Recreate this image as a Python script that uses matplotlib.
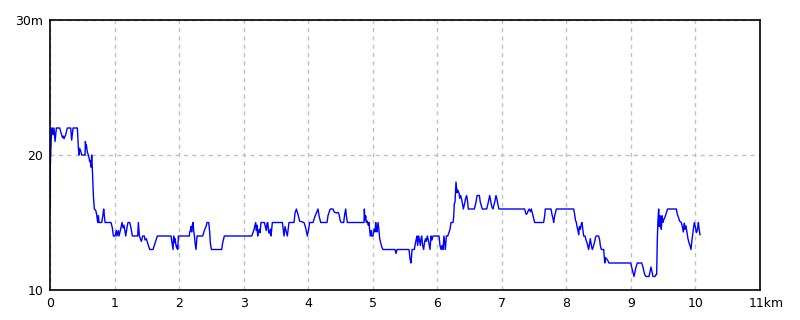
import matplotlib
matplotlib.use('Agg')
import matplotlib.pyplot as plt
import matplotlib.transforms as mtransforms

# elevation profile (distance in km, height in m)
dist_km = [
    0, 0.003, 0.026, 0.037, 0.047, 0.062, 0.078, 0.099, 0.150, 0.192,
    0.207, 0.217, 0.243, 0.269, 0.321, 0.336, 0.357, 0.424, 0.440, 0.450,
    0.460, 0.481, 0.491, 0.543, 0.548, 0.558, 0.563, 0.579, 0.594, 0.605,
    0.615, 0.625, 0.636, 0.646, 0.656, 0.672, 0.687, 0.708, 0.723, 0.739,
    0.749, 0.760, 0.801, 0.822, 0.832, 0.842, 0.853, 0.945, 0.966, 0.982,
    1.007, 1.028, 1.038, 1.059, 1.069, 1.090, 1.116, 1.131, 1.147, 1.173,
    1.199, 1.209, 1.235, 1.255, 1.276, 1.359, 1.369, 1.385, 1.416, 1.436,
    1.462, 1.472, 1.493, 1.514, 1.545, 1.596, 1.637, 1.663,
    # 1.9 - 3.4 km
    1.875, 1.890, 1.906, 1.916, 1.927, 1.937, 1.952, 1.963, 1.973, 1.978,
    1.989, 2.159, 2.164, 2.175, 2.185, 2.195, 2.206, 2.216, 2.226, 2.237,
    2.247, 2.262, 2.278, 2.366, 2.391, 2.417, 2.433, 2.459, 2.474, 2.484,
    2.500, 2.660, 2.675, 2.701, 3.125, 3.156, 3.176, 3.187, 3.197, 3.207,
    3.218, 3.228, 3.244, 3.254, 3.269, 3.321, 3.336, 3.352, 3.362, 3.373,
    3.388, 3.398,
    # 3.4 - 5.2 km
    3.414, 3.424, 3.445, 3.600, 3.610, 3.626, 3.641, 3.662, 3.677, 3.703,
    3.781, 3.796, 3.817, 3.842, 3.868, 3.935, 3.961, 3.987, 4.003, 4.023,
    4.075, 4.101, 4.127, 4.152, 4.168, 4.194, 4.292, 4.307, 4.333, 4.343,
    4.385, 4.400, 4.436, 4.462, 4.478, 4.498, 4.514, 4.550, 4.565, 4.581,
    4.591, 4.607, 4.865, 4.870, 4.880, 4.891, 4.901, 4.917, 4.932, 4.942,
    4.953, 4.963, 4.979, 4.984, 5.004, 5.020, 5.035, 5.046, 5.056, 5.066,
    5.082, 5.097, 5.108, 5.123, 5.139, 5.159,
    # 5.3 - 6.9 km
    5.345, 5.361, 5.376, 5.562, 5.578, 5.593, 5.609, 5.645, 5.655, 5.671,
    5.686, 5.696, 5.712, 5.727, 5.738, 5.748, 5.758, 5.774, 5.789, 5.805,
    5.820, 5.831, 5.846, 5.862, 5.877, 5.887, 5.903, 5.918, 5.934, 6.027,
    6.042, 6.058, 6.073, 6.089, 6.104, 6.115, 6.125, 6.141, 6.161, 6.177,
    6.197, 6.213, 6.244, 6.254, 6.264, 6.275, 6.285, 6.290, 6.306, 6.316,
    6.337, 6.347, 6.363, 6.378, 6.394, 6.404, 6.419, 6.440, 6.455, 6.471,
    6.481, 6.574, 6.600, 6.616, 6.652, 6.667, 6.698, 6.765, 6.791, 6.812,
    6.827, 6.843, 6.863, 6.889, 6.910,
    # 6.9 - 8.6 km
    6.925, 6.941, 6.956, 7.354, 7.369, 7.380, 7.395, 7.411, 7.426, 7.442,
    7.457, 7.473, 7.493, 7.509, 7.648, 7.664, 7.674, 7.762, 7.777, 7.793,
    7.803, 7.819, 7.845, 8.113, 8.129, 8.139, 8.155, 8.165, 8.180, 8.191,
    8.201, 8.217, 8.232, 8.242, 8.258, 8.268, 8.289, 8.304, 8.320, 8.335,
    8.345, 8.361, 8.371, 8.387, 8.402, 8.423, 8.439, 8.454, 8.464, 8.500,
    8.516, 8.526, 8.542, 8.578,
    # 8.6 - 10.1 km
    8.595, 8.605, 8.624, 8.640, 8.660, 8.996, 9.012, 9.032, 9.048, 9.063,
    9.079, 9.100, 9.167, 9.187, 9.203, 9.218, 9.234, 9.280, 9.296, 9.311,
    9.327, 9.342, 9.373, 9.389, 9.399, 9.409, 9.420, 9.430, 9.440, 9.451,
    9.461, 9.471, 9.482, 9.497, 9.512, 9.528, 9.549, 9.569, 9.704, 9.719,
    9.735, 9.755, 9.781, 9.797, 9.812, 9.828, 9.838, 9.853, 9.869, 9.884,
    9.900, 9.915, 9.931, 9.941, 9.952, 9.967, 9.983, 9.998, 10.014, 10.029,
    10.045, 10.055, 10.070,
]

elev_m = [
    16, 19, 22, 22, 21.5, 22, 21, 22, 22, 21.3,
    21.4, 21.2, 21.5, 22, 22, 21.1, 22, 22, 20.5, 20,
    20.5, 20.2, 20, 20, 21, 20.5, 20.75, 20.2, 20, 19.8,
    19.5, 19.6, 19.1, 20, 19, 17, 16, 15.9, 15.6, 15,
    15.5, 15, 15, 15.6, 16, 15.5, 15, 15, 14.6, 14,
    14, 14.4, 14, 14.4, 14, 14.4, 15, 14.6, 14.8, 14,
    14.8, 15, 15, 14.6, 14, 14, 15, 14, 13.6, 14,
    14, 13.7, 13.8, 13.45, 13, 13, 13.6, 14,
    # 1.9 - 3.4 km
    14, 13.5, 13, 14, 13.5, 13.8, 13.3, 13.1, 13.3, 13,
    14, 14, 14.3, 14.4, 14.7, 14.3, 14.8, 15, 14.4, 14,
    13.5, 13, 14, 14, 14.4, 14.7, 15, 15, 14.3, 13.5,
    13, 13, 13.5, 14, 14, 14.4, 14.8, 15, 14.4, 14.8,
    14, 14.4, 14.5, 14.25, 15, 15, 14.7, 14.4, 14.95, 15,
    14.3, 14.2,
    # 3.4 - 5.2 km
    14.5, 14, 15, 15, 14.6, 14, 14.7, 14.3, 14, 15,
    15, 15.7, 16, 15.6, 15.1, 15, 14.6, 14, 14.4, 15,
    15, 15.4, 15.7, 16, 15.5, 15, 15, 15.5, 15.9, 16,
    16, 15.8, 15.7, 15.75, 15.6, 15.1, 15, 15, 15.6, 16,
    15.5, 15, 15, 16, 15.2, 15.5, 15, 15.1, 14.8, 15,
    14.4, 14, 14.4, 14, 14, 14.5, 14.3, 15, 14.5, 14.3,
    15, 14.4, 13.8, 13.5, 13.2, 13,
    # 5.3 - 6.9 km
    13, 12.7, 13, 13, 12.3, 12, 13, 13, 13.3, 13.7,
    14, 13.3, 14, 13.6, 13.3, 13.8, 14, 13.3, 13, 13.6,
    13.8, 13.6, 14, 13.7, 13.3, 13, 14, 13.7, 14, 14,
    13.3, 13, 13.3, 13, 14, 13.5, 13, 14, 14, 14.2,
    14.5, 15, 15, 15.4, 16.4, 16.5, 17.4, 18, 17.2, 17.4,
    17.2, 16.8, 17, 16.7, 16.3, 16, 16.3, 16.8, 17, 16.5,
    16, 16, 16.5, 17, 17, 16.5, 16, 16, 16.5, 17,
    16.6, 16.2, 16, 16.5, 17,
    # 6.9 - 8.6 km
    16.7, 16.3, 16, 16, 15.7, 15.6, 15.7, 15.9, 16, 15.8,
    16, 15.7, 15.3, 15, 15, 15.5, 16, 16, 15.6, 15.3,
    15, 15.5, 16, 16, 15.6, 15.2, 15, 14.7, 14.4, 14.1,
    14.7, 14.5, 14.9, 15, 14.4, 14, 14, 13.7, 13.5, 13.2,
    13, 13.5, 13.8, 13.3, 13, 13.3, 13.6, 13.95, 14, 14,
    13.7, 13.3, 13, 13,
    # 8.6 - 10.1 km
    12, 12.4, 12.3, 12.2, 12, 12, 11.7, 11.35, 11, 11.35,
    11.7, 12, 12, 11.7, 11.35, 11.1, 11, 11, 11.35, 11.7,
    11.35, 11, 11, 11.15, 11.15, 13.75, 15.25, 16, 14.7, 15.5,
    14.95, 14.5, 15.5, 15, 15.25, 15.4, 15.7, 16, 16, 15.6,
    15.4, 15.1, 15, 14.7, 14.3, 14.95, 14.5, 14.75, 14.25, 13.8,
    13.5, 13.3, 13, 13.5, 13.95, 14.5, 15, 14.7, 14.25, 14.4,
    15, 14.6, 14.1,
]

x_ticks = list(range(0, 12))
x_labels = [str(i) for i in range(11)] + ['11km']
y_ticks = [10, 20, 30]
y_labels = ['10', '20', '30m']

fig = plt.figure(figsize=(8, 3.2), dpi=100)
ax = fig.add_axes([50 / 800, 30 / 320, 710 / 800, 270 / 320])

ax.plot(dist_km, elev_m, color='#0000ff', lw=1.0)

ax.set_xlim(0, 11)
ax.set_ylim(10, 30)
ax.set_xticks(x_ticks)
ax.set_xticklabels(x_labels)
ax.set_yticks(y_ticks)
ax.set_yticklabels(y_labels)
ax.tick_params(length=0, labelsize=9, pad=5)

# "11km" sits a bit right of its tick in the original
last = ax.get_xticklabels()[-1]
last.set_transform(last.get_transform() +
                   mtransforms.ScaledTranslation(6 / 100, 0, fig.dpi_scale_trans))

ax.grid(True, color='#c0c0c0', linestyle=(0, (3, 3)), lw=1)
for s in ax.spines.values():
    s.set_color('black')
    s.set_linewidth(1.2)

fig.savefig('out.png', dpi=100)
